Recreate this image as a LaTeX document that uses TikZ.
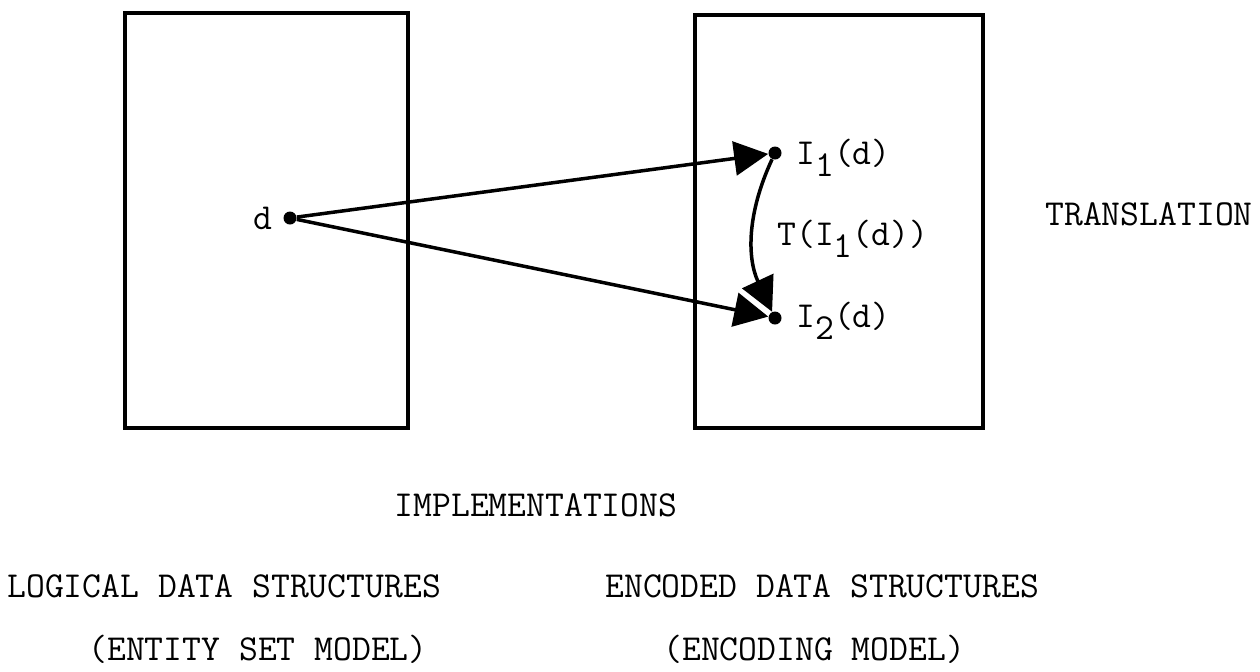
\documentclass[tikz,border=0pt]{standalone}
\usepackage{fontspec}
\usepackage{tikz}
\usetikzlibrary{arrows.meta,positioning}
\newcommand{\drawthick}{\draw[line width=2pt]}
\newcommand{\typesub}[1]{\raisebox{-6pt}{#1}}
\tikzset{
    dotnode/.style={circle,fill,inner sep=0pt,minimum size=6.5pt},
    typed/.style={inner sep=0pt,font=\ttfamily\fontsize{18.3pt}{20pt}\selectfont},
    maparrow/.style={line width=1.75pt,-{Triangle[length=17pt,width=17pt]}}
}

\begin{document}
\begin{tikzpicture}[x=0.5pt,y=-0.5pt]
\useasboundingbox (0,0) rectangle (1260,671);
    % the two structures
    \drawthick (125,13) rectangle (408,428);
    \drawthick (695,15) rectangle (983,428);
    % points and their images
    \node[dotnode] (dd) at (290,218) {};
    \node[dotnode] (ione) at (775,153) {};
    \node[dotnode] (itwo) at (775,318) {};
    \node[typed,left=5pt of dd] (dlabel) {d};
    \node[typed,anchor=base west] (ionelabel) at ([xshift=7pt,yshift=-5.5pt]ione.east) {I\typesub{1}(d)};
    \node[typed,anchor=base west] (itwolabel) at ([xshift=7pt,yshift=-4.5pt]itwo.east) {I\typesub{2}(d)};
    \node[typed,anchor=base west] (tlabel) at (777,245) {T(I\typesub{1}(d))};
    \draw[maparrow] (dd) -- (ione);
    \draw[maparrow] (dd) -- (itwo);
    \draw[maparrow] (ione) to[bend right=25] (itwo);
    % captions
    \node[typed,anchor=base west] (translation) at (1045,225) {TRANSLATION};
    \node[typed,anchor=base] (implement) at (536,516) {IMPLEMENTATIONS};
    \node[typed,anchor=base west] (logical) at (7,597) {LOGICAL DATA STRUCTURES};
    \node[typed,anchor=base west] (encoded) at (605,597) {ENCODED DATA STRUCTURES};
    \node[typed,anchor=base west] (entity) at (88,660) {(ENTITY SET MODEL)};
    \node[typed,anchor=base west] (encoding) at (663,660) {(ENCODING MODEL)};
\end{tikzpicture}
\end{document}
